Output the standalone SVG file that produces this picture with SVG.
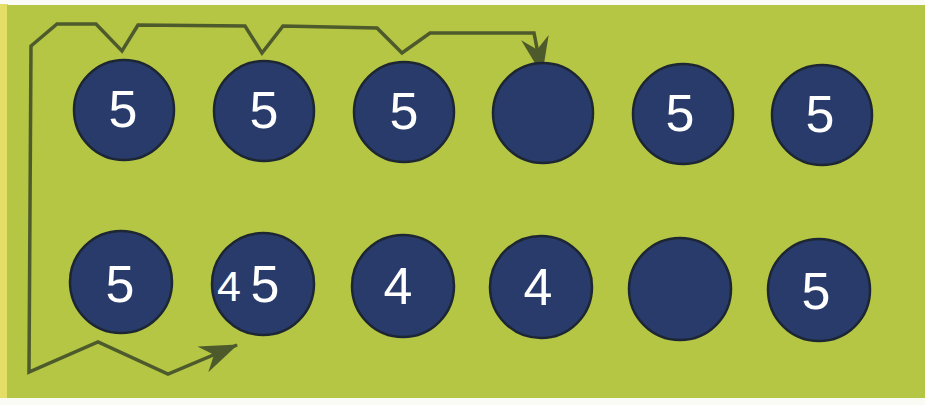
<svg xmlns="http://www.w3.org/2000/svg" width="925" height="405" viewBox="0 0 925 405">
<style>
.c{fill:#283b6b;stroke:#1d2633;stroke-width:2.5}
.t{font-family:"Liberation Sans",Arial,sans-serif;font-size:52px;fill:#ffffff;text-anchor:middle}
.s{font-size:43px}
.ln{fill:none;stroke:#4d5a2c;stroke-width:3.5;stroke-linejoin:miter}
</style>
<defs>
<marker id="ah" viewBox="0 0 38 28" refX="37" refY="14" markerWidth="38" markerHeight="28" markerUnits="userSpaceOnUse" orient="auto-start-reverse">
<path d="M0,0 L38,14 L0,28 L12,14 Z" fill="#4d5a2c"/>
</marker>
</defs>
<rect x="0" y="0" width="925" height="405" fill="#fbfbf6"/>
<rect x="0" y="4" width="8" height="394" fill="#e4de66"/>
<rect x="7" y="5" width="918" height="393" fill="#b5c544"/>
<g id="connectors">
<path class="ln" marker-start="url(#ah)" marker-end="url(#ah)" d="M542,74 L534,33 L430,33 L402,53 L377,28 L283,26 L262,53 L245,26 L138,25 L122,51 L96,24 L57,24 L31,46 L29,372 L98,342 L168,374 L237,345"/>
</g>
<g id="n1"><circle class="c" cx="124" cy="110" r="50"/><text class="t" x="123" y="127">5</text></g>
<g id="n2"><circle class="c" cx="264" cy="111" r="50"/><text class="t" x="264" y="128">5</text></g>
<g id="n3"><circle class="c" cx="404" cy="112" r="50"/><text class="t" x="404" y="129">5</text></g>
<g id="n4"><circle class="c" cx="543" cy="113" r="50"/></g>
<g id="n5"><circle class="c" cx="683" cy="114" r="50"/><text class="t" x="680" y="131">5</text></g>
<g id="n6"><circle class="c" cx="822" cy="115" r="50"/><text class="t" x="820" y="132">5</text></g>
<g id="n7"><circle class="c" cx="121" cy="282" r="51"/><text class="t" x="120" y="302">5</text></g>
<g id="n8"><circle class="c" cx="263" cy="284" r="51"/><text class="t s" x="229" y="301">4</text><text class="t" x="265" y="302">5</text></g>
<g id="n9"><circle class="c" cx="403" cy="286" r="51"/><text class="t" x="398" y="304">4</text></g>
<g id="n10"><circle class="c" cx="541" cy="287" r="51"/><text class="t" x="538" y="305">4</text></g>
<g id="n11"><circle class="c" cx="680" cy="289" r="51"/></g>
<g id="n12"><circle class="c" cx="819" cy="290" r="51"/><text class="t" x="816" y="309">5</text></g>
</svg>
